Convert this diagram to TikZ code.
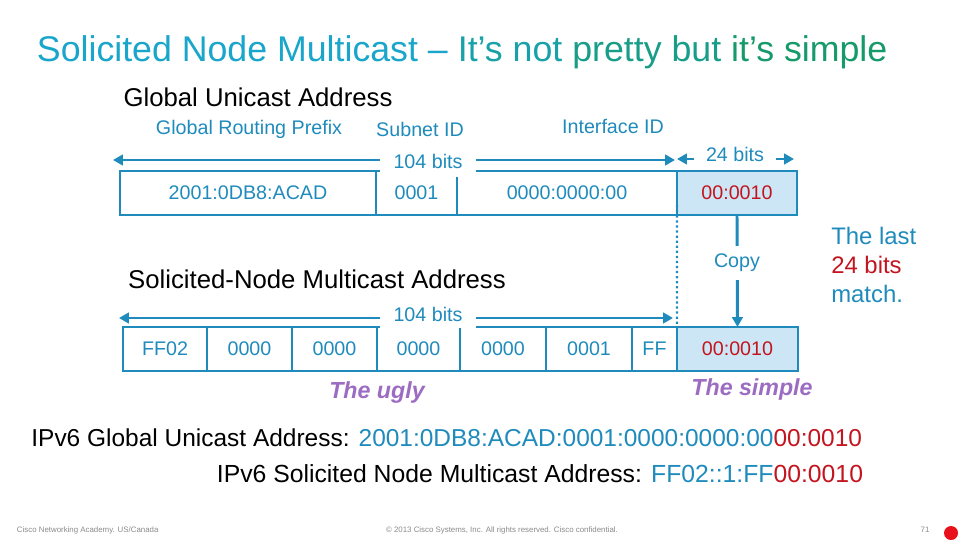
\documentclass[tikz,border=0pt]{standalone}
\usepackage{fontspec}
\setmainfont{Liberation Sans}
\usepackage{xcolor}
\usetikzlibrary{arrows.meta}
\definecolor{accent}{HTML}{1F8BBC}
\definecolor{cellfill}{HTML}{CDE6F5}
\definecolor{matchred}{HTML}{C3151F}
\definecolor{uglypurple}{HTML}{9C6CC2}
\definecolor{titlecyan}{HTML}{1AA5CB}
\definecolor{titlegreen}{HTML}{179A6B}
\definecolor{footgray}{HTML}{8A8A8A}
\definecolor{dotred}{HTML}{E8101A}
\newcommand{\fsz}[2]{\fontsize{#1}{#2}\selectfont}

\begin{document}
\begin{tikzpicture}[x=0.025cm, y=-0.025cm,
    cellbox/.style={draw=accent, line width=1pt, inner sep=0pt, outer sep=0pt,
      minimum height=1.1cm, font=\fsz{14}{14}, text=accent},
    spanarrow/.style={accent, line width=2.1pt, -{Triangle[length=7pt,width=7.5pt]}},
    cover/.style={fill=white, inner sep=0pt, font=\fsz{14}{14}, text=accent},
    heading/.style={font=\fsz{18.3}{18.3}, text=black},
    fieldname/.style={font=\fsz{14}{14}, text=accent},
    verdict/.style={font=\fsz{16.5}{16.5}\bfseries\itshape, text=uglypurple},
    footer/.style={font=\fsz{5.6}{5.6}, text=footgray}]
  \useasboundingbox (0,0) rectangle (960,540);

  \node[anchor=base west, font=\fsz{25.4}{25.4}] (title) at (32,61)
    {{\color{titlecyan}Solicited Node Multicast –} {\color{titlegreen!35!titlecyan}It’s not}
     {\color{titlegreen!70!titlecyan}pretty but} {\color{titlegreen}it’s simple}};

  \node[heading] (guaTitle) at (258,97) {Global Unicast Address};
  \node[fieldname] (prefixName) at (249,129) {Global Routing Prefix};
  \node[fieldname] (subnetName) at (420,129) {Subnet ID};
  \node[fieldname] (ifaceName) at (613,126) {Interface ID};

  \foreach \a/\b/\t/\n in {120/376/2001:0DB8:ACAD/gpfx, 376/457/0001/gsub, 457/677/0000:0000:00/giid} {
    \node[cellbox, minimum width={(\b-\a)*0.7113pt}] (\n) at ({(\a+\b)/2},193) {\t};
  }
  \node[cellbox, fill=cellfill, text=matchred, minimum width={120*0.7113pt}] (gsuf) at (737,193) {00:0010};
  \draw[accent, line width=1.8pt] (gpfx.north east) -- (gpfx.south east);
  \draw[accent, line width=1.8pt] (gsuf.north west) -- (gsuf.south west) -- (gsuf.south east);

  \coordinate (topL) at (113,160);
  \coordinate (topR) at (675,160);
  \coordinate (bitsL) at (677,159);
  \coordinate (bitsR) at (794,159);
  \draw[spanarrow, {Triangle[length=7pt,width=7.5pt]}-{Triangle[length=7pt,width=7.5pt]}] (topL) -- (topR);
  \draw[spanarrow, {Triangle[length=7pt,width=7.5pt]}-{Triangle[length=7pt,width=7.5pt]}] (bitsL) -- (bitsR);
  \node[cover, minimum width=2.4cm, minimum height=0.8cm] (topBits) at (428,161) {104 bits};
  \node[cover, minimum width=2.05cm, minimum height=0.45cm] (sufBits) at (735,154.5) {24 bits};

  \node[heading] (snmTitle) at (317,279) {Solicited-Node Multicast Address};

  \foreach \a/\b/\t/\n in {123/207/FF02/m1, 207/292/0000/m2, 292/377/0000/m3, 377/460/0000/m4,
                           460/546/0000/m5, 546/632/0001/m6, 632/677/FF/m7} {
    \node[cellbox, minimum width={(\b-\a)*0.7113pt}] (\n) at ({(\a+\b)/2},349) {\t};
  }
  \node[cellbox, fill=cellfill, text=matchred, minimum width={121*0.7113pt}] (msuf) at (737.5,349) {00:0010};

  \coordinate (botL) at (119,318);
  \coordinate (botR) at (673,318);
  \draw[spanarrow, {Triangle[length=7pt,width=7.5pt]}-{Triangle[length=7pt,width=7.5pt]}] (botL) -- (botR);
  \node[cover, minimum width=2.4cm, minimum height=0.7cm] (botBits) at (428,314) {104 bits};

  \draw[accent, line width=1.6pt, dotted] ([yshift=7pt]gsuf.south west) -- (msuf.north west);
  \draw[spanarrow] (gsuf.south) -- (msuf.north);
  \node[cover, minimum height=0.83cm, inner xsep=2pt] (copyLbl) at (737,263) {Copy};

  \node[anchor=west, align=left, inner sep=0pt, font=\fsz{17}{20.6}, text=accent] (lastBits) at (831,265)
    {The last\\{\color{matchred}24 bits}\\match.};

  \node[verdict] (ugly) at (377,392) {The ugly};
  \node[verdict] (simple) at (752,389) {The simple};

  \node[anchor=base east, font=\fsz{17.4}{17.4}] (guaLine) at (867,446)
    {IPv6 Global Unicast Address: {\color{accent}2001:0DB8:ACAD:0001:0000:0000:00}{\color{matchred}00:0010}};
  \node[anchor=base east, font=\fsz{17.6}{17.6}] (snmLine) at (868,482)
    {IPv6 Solicited Node Multicast Address: {\color{accent}FF02::1:FF}{\color{matchred}00:0010}};

  \node[footer, anchor=base west] (academy) at (12,532) {Cisco Networking Academy. US/Canada};
  \node[footer, anchor=base] (copyright) at (502,532) {© 2013 Cisco Systems, Inc. All rights reserved. Cisco confidential.};
  \node[footer, anchor=base] (pageNo) at (925,532) {71};
  \fill[dotred] (951,533) circle (7);
\end{tikzpicture}
\end{document}
